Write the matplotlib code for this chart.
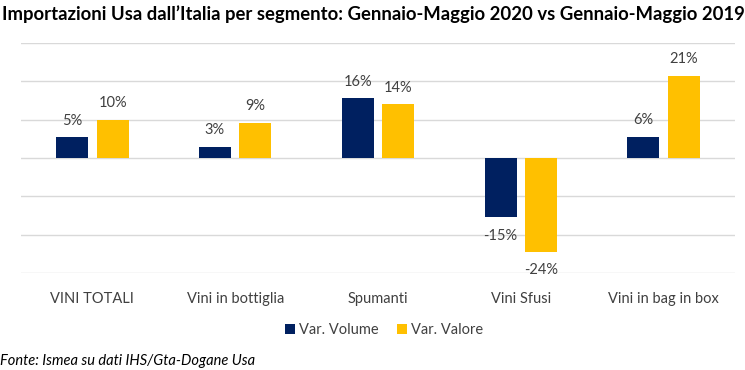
import matplotlib
matplotlib.use("Agg")
import matplotlib.pyplot as plt
import numpy as np

plt.rcParams['font.family'] = ['Lato', 'DejaVu Sans']

segmenti = ["VINI TOTALI", "Vini in bottiglia", "Spumanti", "Vini Sfusi", "Vini in bag in box"]
var_volume = [5.4, 2.9, 15.6, -15.4, 5.6]
var_valore = [10.0, 9.2, 14.0, -24.4, 21.4]

TITOLO = "Importazioni Usa dall\u2019Italia per segmento: Gennaio-Maggio 2020 vs Gennaio-Maggio 2019"
FONTE = "Fonte: Ismea su dati IHS/Gta-Dogane Usa"

NAVY = "#002060"
GOLD = "#FFC000"
TESTO = "#404040"
GRIGLIA = "#d9d9d9"

fig = plt.figure(figsize=(7.45, 3.70), dpi=100)
ax = fig.add_axes([21 / 745, 1 - 273 / 370, 714 / 745, 230 / 370])

x = np.arange(len(segmenti))
w = 0.224
off = 0.142

b1 = ax.bar(x - off, var_volume, w, color=NAVY, label="Var. Volume", zorder=3)
b2 = ax.bar(x + off, var_valore, w, color=GOLD, label="Var. Valore", zorder=3)

# etichette dati sopra / sotto le barre
for bars, vals in [(b1, var_volume), (b2, var_valore)]:
    for r, v in zip(bars, vals):
        dy = 12 if v >= 0 else -13.5
        ax.annotate(f"{v:.0f}%", (r.get_x() + r.get_width() / 2, v),
                    xytext=(0, dy), textcoords="offset points",
                    ha="center", va="center", fontsize=10.5, color=TESTO)

ax.set_xlim(-0.5, len(segmenti) - 0.5)
ax.set_ylim(-30, 30)
ax.set_yticks(np.arange(-30, 31, 10))
ax.yaxis.grid(True, color=GRIGLIA, linewidth=1, zorder=0)
ax.tick_params(axis="y", left=False, labelleft=False)
ax.set_xticks(x)
ax.set_xticklabels(segmenti, fontsize=10.5, color=TESTO)
ax.tick_params(axis="x", bottom=False, pad=10)
for s in ax.spines.values():
    s.set_visible(False)

fig.legend(handles=[b1, b2], loc="center", bbox_to_anchor=(384 / 745, 1 - 330 / 370),
           ncol=2, frameon=False, fontsize=10.5, labelcolor=TESTO,
           handlelength=0.7, handleheight=0.7, handletextpad=0.3, columnspacing=1.2)

fig.text(2 / 745, 1 - 14 / 370, TITOLO, fontsize=13.3, fontweight="bold",
         color="black", ha="left", va="center")
fig.text(0, 1.5 / 370, FONTE, fontsize=10.5, style="italic",
         color="black", ha="left", va="bottom")

fig.savefig("out.png", dpi=100)
